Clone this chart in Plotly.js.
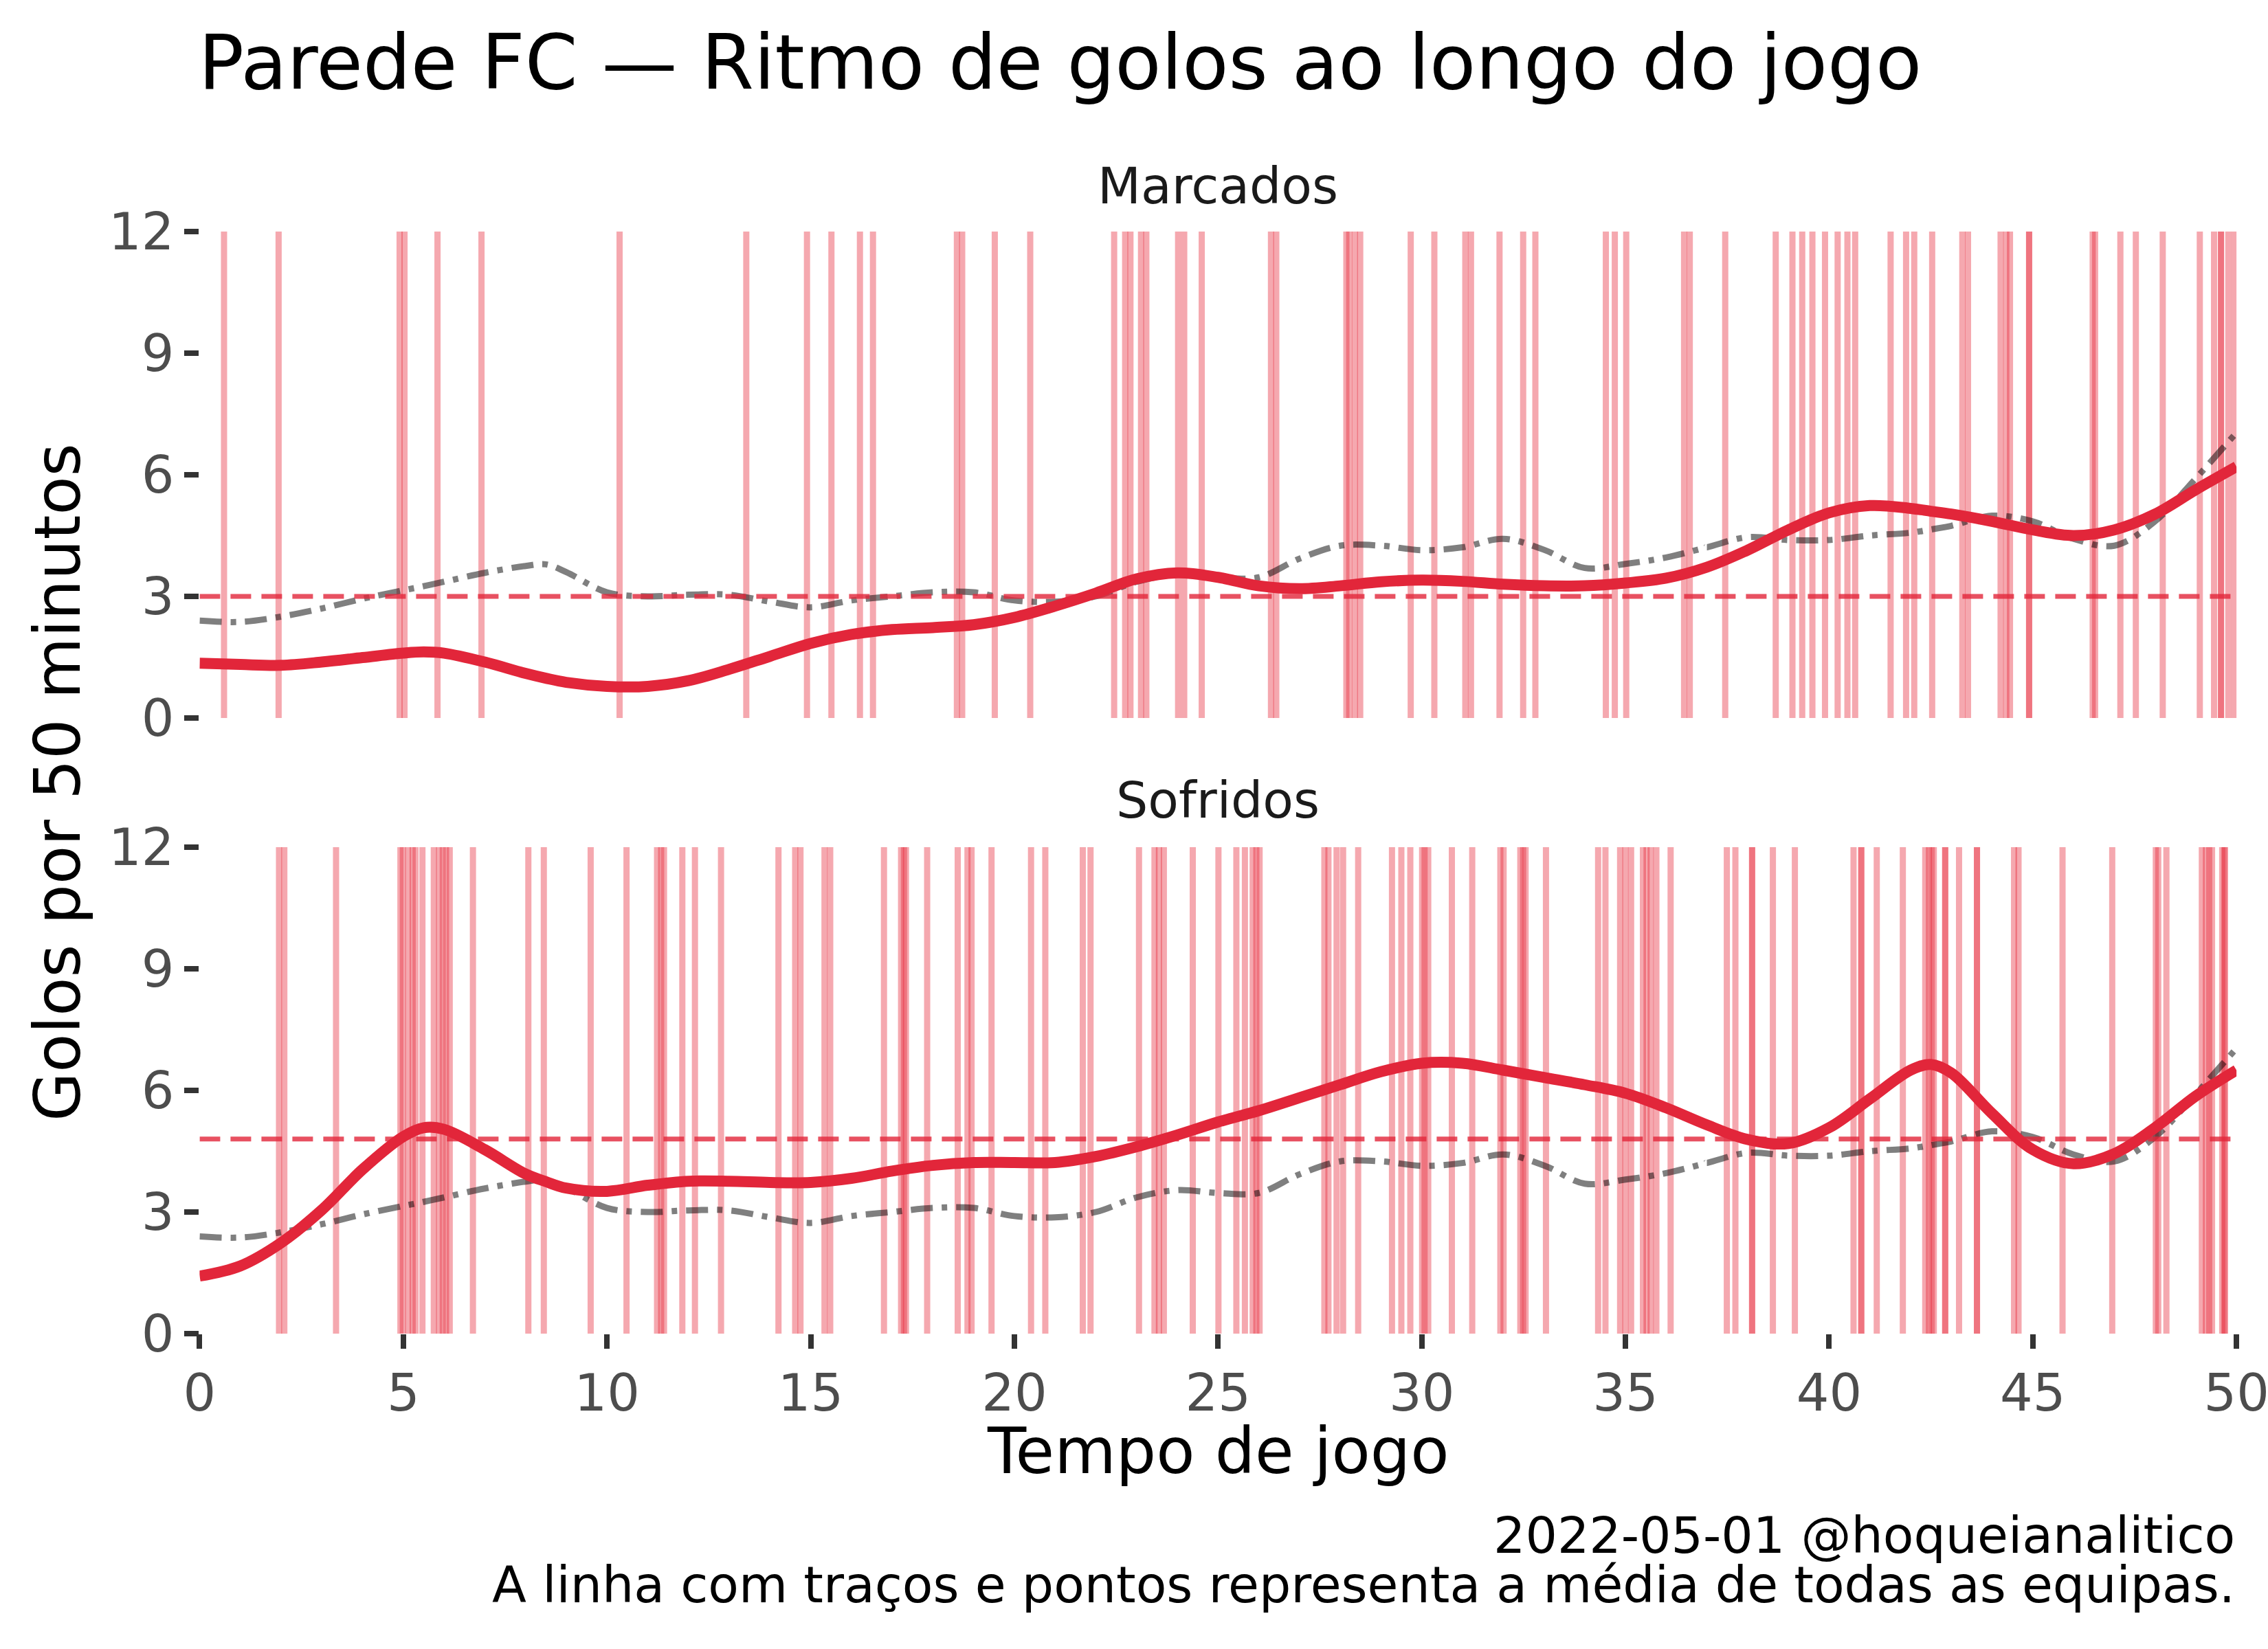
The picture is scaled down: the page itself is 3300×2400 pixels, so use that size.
<!DOCTYPE html>
<html>
<head>
<meta charset="utf-8">
<script src="https://cdn.plot.ly/plotly-3.0.1.min.js"></script>
<style>html,body{margin:0;padding:0;background:#fff}</style>
</head>
<body>
<div id="gd" style="width:3300px;height:2400px"></div>
<script>
// minutos de jogo onde as curvas foram lidas
var minutos = [0,1,2,3,4,5,5.5,6,7,8,8.5,9,10,11,12,13,14,15,16,17,18,19,20,21,22,23,24,25,
  26,27,28,29,30,31,32,33,34,35,36,37,38,39,40,41,42,42.5,43,44,45,46,47,48,49,50];

// ritmo de golos marcados (golos por 50 min)
var ritmoMarcados = [1.35,1.32,1.3,1.38,1.49,1.6,1.63,1.6,1.38,1.1,0.98,0.88,0.78,0.78,0.92,1.2,1.52,1.84,2.06,2.18,
  2.23,2.3,2.48,2.76,3.08,3.43,3.58,3.47,3.26,3.19,3.26,3.36,3.4,3.37,3.3,3.26,3.26,3.33,3.45,3.72,
  4.14,4.64,5.06,5.24,5.17,5.1,5.03,4.85,4.64,4.5,4.64,5.03,5.63,6.2];

// ritmo de golos sofridos
var ritmoSofridos = [1.42,1.67,2.24,3.05,4.05,4.86,5.08,5.04,4.54,3.94,3.75,3.59,3.51,3.66,3.76,3.76,3.73,3.73,3.83,4.01,
  4.15,4.22,4.22,4.22,4.37,4.61,4.9,5.22,5.5,5.82,6.14,6.46,6.67,6.67,6.5,6.32,6.14,5.93,5.57,5.15,
  4.79,4.69,5.08,5.79,6.5,6.64,6.43,5.43,4.54,4.19,4.44,5.08,5.86,6.5];

// média de todas as equipas
var ritmoMedia = [2.4,2.37,2.5,2.7,2.94,3.15,3.25,3.36,3.58,3.75,3.79,3.6,3.1,3.0,3.04,3.04,2.87,2.73,2.9,3.0,
  3.1,3.1,2.9,2.87,3.0,3.36,3.54,3.47,3.47,3.93,4.25,4.25,4.14,4.21,4.42,4.15,3.7,3.8,3.96,4.21,
  4.46,4.39,4.39,4.5,4.57,4.65,4.74,4.99,4.85,4.42,4.25,4.85,5.91,7.04];

// média global da equipa (linha tracejada)
var mediaMarcados = 3.0;
var mediaSofridos = 4.8;

// minuto de cada golo
var golosMarcados = [0.60,1.94,4.91,5.03,5.84,6.92,10.31,13.42,14.91,15.51,16.21,16.53,
  18.59,18.72,19.52,20.39,22.45,22.72,22.85,23.11,23.24,24.02,24.17,24.60,26.30,26.43,
  28.15,28.22,28.36,28.49,29.73,30.31,31.07,31.21,31.91,32.49,32.79,
  34.52,34.74,35.02,36.44,36.58,37.45,38.69,39.10,39.34,39.59,39.90,40.21,40.45,40.64,
  41.51,41.89,42.09,42.53,43.27,43.41,44.21,44.35,44.44,44.91,44.91,46.47,46.53,47.15,
  47.53,48.19,49.10,49.45,49.62,49.62,49.80,49.95];

var golosSofridos = [1.95,2.08,3.35,4.93,4.99,5.12,5.23,5.30,5.47,5.75,5.88,5.97,6.05,6.14,6.71,
  8.07,8.45,9.60,10.48,11.23,11.33,11.40,11.85,12.16,12.80,14.21,14.62,14.75,15.34,15.48,
  16.80,17.22,17.29,17.34,17.86,18.61,18.85,18.95,19.44,20.41,20.76,21.68,21.87,23.06,
  23.44,23.55,23.67,24.38,25.01,25.45,25.66,25.85,25.94,26.02,27.61,27.71,27.91,28.07,
  28.44,29.27,29.50,29.72,30.01,30.07,30.16,30.74,31.24,31.93,32.01,32.42,32.49,32.55,33.05,
  34.33,34.51,34.87,35.00,35.14,35.43,35.52,35.62,35.76,36.11,37.49,37.70,38.11,38.11,
  38.62,39.16,40.60,40.79,40.79,41.17,41.81,42.36,42.45,42.52,42.57,42.85,42.85,43.19,
  43.63,43.63,44.54,44.65,45.73,46.95,48.02,48.08,48.28,49.15,49.25,49.33,49.40,49.65,49.70,49.72];

var ticksX = [0,5,10,15,20,25,30,35,40,45,50];
var ticksY = [0,3,6,9,12];

var vermelho = '#e2263a';
var fonte = 'DejaVu Sans';

function painel(ritmo, media, xa, ya) {
  return [
    {x: minutos, y: ritmoMedia, xaxis: xa, yaxis: ya, mode: 'lines', hoverinfo: 'skip',
     line: {color: 'rgba(0,0,0,0.5)', width: 9, dash: '32px,13px,8px,13px', shape: 'spline'}},
    {x: [0, 50], y: [media, media], xaxis: xa, yaxis: ya, mode: 'lines', hoverinfo: 'skip',
     line: {color: 'rgba(226,38,58,0.8)', width: 7, dash: '30px,15px'}},
    {x: minutos, y: ritmo, xaxis: xa, yaxis: ya, mode: 'lines',
     line: {color: vermelho, width: 16, shape: 'spline', smoothing: 1}}
  ];
}

var data = painel(ritmoMarcados, mediaMarcados, 'x2', 'y2')
  .concat(painel(ritmoSofridos, mediaSofridos, 'x', 'y'));

// traços verticais de cada golo
var shapes = [];
golosMarcados.forEach(function (t) {
  shapes.push({type: 'line', xref: 'x2', yref: 'y2 domain', x0: t, x1: t, y0: 0, y1: 1, layer: 'below',
    line: {color: 'rgba(230,38,55,0.4)', width: 9}});
});
golosSofridos.forEach(function (t) {
  shapes.push({type: 'line', xref: 'x', yref: 'y domain', x0: t, x1: t, y0: 0, y1: 1, layer: 'below',
    line: {color: 'rgba(230,38,55,0.4)', width: 9}});
});

var eixoX = {
  domain: [0.0880, 0.9861], range: [0, 50], tickvals: ticksX,
  ticks: 'outside', ticklen: 21, tickwidth: 8, tickcolor: '#333333',
  tickfont: {family: fonte, size: 75, color: '#4d4d4d'}, ticklabeloverflow: 'allow',
  showgrid: false, zeroline: false, showline: false
};
var eixoY = {
  range: [0, 12], tickvals: ticksY,
  ticks: 'outside', ticklen: 21, tickwidth: 8, tickcolor: '#333333',
  tickfont: {family: fonte, size: 75, color: '#4d4d4d'},
  showgrid: false, zeroline: false, showline: false
};

var layout = {
  width: 3300, height: 2400,
  margin: {l: 0, r: 0, t: 0, b: 0},
  paper_bgcolor: 'white', plot_bgcolor: 'white',
  showlegend: false,
  font: {family: fonte, color: '#000'},
  title: {text: 'Parede FC — Ritmo de golos ao longo do jogo', x: 0.0875, xanchor: 'left',
    y: 1 - 90 / 2400, yanchor: 'middle', font: {size: 110, color: '#000'}},
  xaxis: Object.assign({}, eixoX, {anchor: 'y'}),
  xaxis2: Object.assign({}, eixoX, {anchor: 'y2', showticklabels: false, ticks: ''}),
  yaxis: Object.assign({}, eixoY, {domain: [0.19125, 0.48625], anchor: 'x'}),
  yaxis2: Object.assign({}, eixoY, {domain: [0.5646, 0.8596], anchor: 'x2'}),
  shapes: shapes,
  annotations: [
    {text: 'Marcados', xref: 'paper', yref: 'paper', x: 0.537, y: 1 - 270 / 2400,
     xanchor: 'center', yanchor: 'middle', showarrow: false, font: {size: 73, color: '#1a1a1a'}},
    {text: 'Sofridos', xref: 'paper', yref: 'paper', x: 0.537, y: 1 - 1164 / 2400,
     xanchor: 'center', yanchor: 'middle', showarrow: false, font: {size: 73, color: '#1a1a1a'}},
    {text: 'Tempo de jogo', xref: 'paper', yref: 'paper', x: 0.537, y: 1 - 2112 / 2400,
     xanchor: 'center', yanchor: 'middle', showarrow: false, font: {size: 92, color: '#000'}},
    {text: 'Golos por 50 minutos', xref: 'paper', yref: 'paper', x: 84 / 3300, y: 1 - 1139 / 2400,
     xanchor: 'center', yanchor: 'middle', textangle: -90, showarrow: false, font: {size: 92, color: '#000'}},
    {text: '2022-05-01 @hoqueianalitico', xref: 'paper', yref: 'paper', x: 0.9861, y: 1 - 2234 / 2400,
     xanchor: 'right', yanchor: 'middle', showarrow: false, font: {size: 73, color: '#000'}},
    {text: 'A linha com traços e pontos representa a média de todas as equipas.', xref: 'paper', yref: 'paper',
     x: 0.9861, y: 1 - 2306 / 2400,
     xanchor: 'right', yanchor: 'middle', showarrow: false, font: {size: 73, color: '#000'}}
  ]
};

Plotly.newPlot('gd', data, layout, {staticPlot: true});
</script>
</body>
</html>
